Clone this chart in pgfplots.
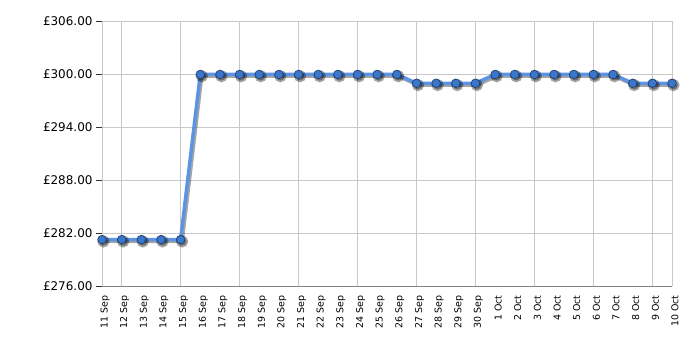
\documentclass[border=0pt]{standalone}
\usepackage{pgfplots}
\pgfplotsset{compat=1.18}
\usepackage{fontspec}
\setmainfont{DejaVu Sans}
\definecolor{linec}{RGB}{92,148,226}
\definecolor{markc}{RGB}{58,118,204}
\definecolor{gridc}{RGB}{200,200,200}
\definecolor{axisc}{RGB}{130,130,130}
\pgfplotstableread{
x y
0 281.25
1 281.25
2 281.25
3 281.25
4 281.25
5 299.95
6 299.95
7 299.95
8 299.95
9 299.95
10 299.95
11 299.95
12 299.95
13 299.95
14 299.95
15 299.95
16 298.95
17 298.95
18 298.95
19 298.95
20 299.95
21 299.95
22 299.95
23 299.95
24 299.95
25 299.95
26 299.95
27 298.95
28 298.95
29 298.95
}\prices
\begin{document}
\begin{tikzpicture}
\useasboundingbox (0,0) rectangle (700bp,350bp);
\begin{axis}[at={(102bp,64bp)}, anchor=south west, scale only axis,
  width=570bp, height=265bp,
  xmin=0, xmax=29, ymin=276, ymax=306,
  axis lines*=left, axis line style={-, draw=axisc},
  clip=false,
  /pgf/number format/assume math mode=true,
  ytick={276,282,...,306},
  yticklabel={£\pgfmathprintnumber[fixed,fixed zerofill,precision=2]{\tick}},
  yticklabel style={font=\fontsize{12}{13}\selectfont, black},
  ymajorgrids=true, major grid style={gridc, line width=0.6bp},
  tick align=outside, major tick length=6bp,
  ytick style={draw=black!80, line width=0.6bp},
  xtick={0,...,29},
  xticklabels={11 Sep,12 Sep,13 Sep,14 Sep,15 Sep,16 Sep,17 Sep,18 Sep,19 Sep,20 Sep,21 Sep,22 Sep,23 Sep,24 Sep,25 Sep,26 Sep,27 Sep,28 Sep,29 Sep,30 Sep,1 Oct,2 Oct,3 Oct,4 Oct,5 Oct,6 Oct,7 Oct,8 Oct,9 Oct,10 Oct},
  xtick style={draw=none},
  xticklabel style={rotate=90, anchor=east, font=\fontsize{9.5}{10}\selectfont, black, yshift=-3bp},
  extra x ticks={0,1,4,7,10,13,16,19,22,25,28},
  extra x tick labels={},
  extra x tick style={grid=major, tick style={draw=black!80, line width=0.6bp}, major tick length=5bp},
]
\draw[gridc, line width=0.6bp] (rel axis cs:0,1) -- (rel axis cs:1,1) -- (rel axis cs:1,0);
\addplot[black, opacity=0.35, line width=3.5bp, xshift=1.5bp, yshift=-1.8bp,
  mark=*, mark size=4.3bp, mark options={draw=none, fill=black}] table[x=x,y=y] {\prices};
\addplot[linec, line width=3.5bp, mark=*, mark size=4.3bp,
  mark options={fill=markc, draw=markc!55!black, line width=0.7bp}] table[x=x,y=y] {\prices};
\end{axis}
\end{tikzpicture}
\end{document}
